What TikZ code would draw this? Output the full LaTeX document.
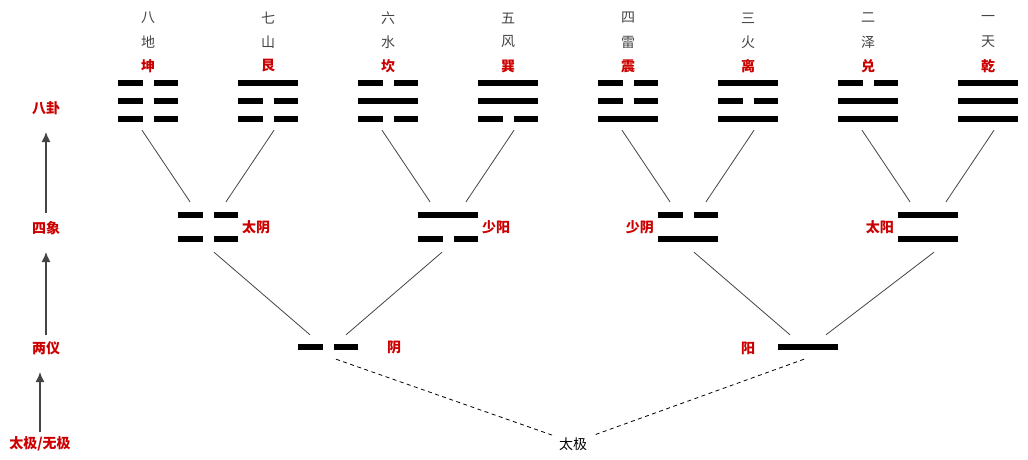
\documentclass[tikz,border=0pt]{standalone}
\usepackage{fontspec}
\setmainfont{Noto Sans CJK SC}
\usetikzlibrary{arrows.meta,calc,positioning}
\definecolor{guared}{HTML}{CC0000}
\definecolor{guagray}{HTML}{444444}
% one yao line: #1 centre x, #2 y, #3 = 1 solid, 0 broken
\newcommand{\yaoline}[3]{%
  \ifnum#3=1
    \draw[yao] (#1-30,#2) -- (#1+30,#2);
  \else
    \draw[yao] (#1-30,#2) -- (#1-5.5,#2);
    \draw[yao] (#1+5.5,#2) -- (#1+30,#2);
  \fi}
\begin{document}
\begin{tikzpicture}[x=1pt,y=-1pt,
    yao/.style={line width=6pt,black},
    link/.style={guagray,line width=0.8pt},
    dotlink/.style={black,line width=0.8pt,dash pattern=on 4pt off 3.5pt},
    uparrow/.style={-{Latex[length=10pt,width=9pt]},guagray,line width=1.3pt},
    frame/.style={minimum width=60pt,inner sep=0pt},
    numtxt/.style={text=guagray,font=\fontsize{14}{16}\selectfont,inner sep=1pt},
    redtxt/.style={text=guared,font=\fontsize{14}{16}\selectfont\bfseries,inner sep=1pt},
    basetxt/.style={text=black,font=\fontsize{14}{16}\selectfont,inner sep=3pt}]
  \useasboundingbox (0,0) rectangle (1028,459);
  % Eight trigrams
  \foreach \i/\num/\obj/\gua/\ya/\yb/\yc in {0/八/地/坤/0/0/0,1/七/山/艮/1/0/0,
      2/六/水/坎/0/1/0,3/五/风/巽/1/1/0,4/四/雷/震/0/0/1,5/三/火/离/1/0/1,
      6/二/泽/兑/0/1/1,7/一/天/乾/1/1/1}{
    \pgfmathsetmacro\cx{148+120*\i}
    \node[numtxt] (n\i) at (\cx,18) {\num};
    \node[numtxt] (o\i) at (\cx,42) {\obj};
    \node[redtxt] (t\i) at (\cx,66) {\gua};
    \node[frame,minimum height=58pt] (g\i) at (\cx,101) {};
    \yaoline{\cx}{83}{\ya}
    \yaoline{\cx}{101}{\yb}
    \yaoline{\cx}{119}{\yc}
  }
  % Four images
  \foreach \j/\ya/\yb in {0/0/0,1/1/0,2/0/1,3/1/1}{
    \pgfmathsetmacro\cx{208+240*\j}
    \pgfmathtruncatemacro\ja{2*\j}
    \pgfmathtruncatemacro\jb{2*\j+1}
    \node[frame,minimum height=50pt] (b\j) at (\cx,227) {};
    \yaoline{\cx}{215}{\ya}
    \yaoline{\cx}{239}{\yb}
    \draw[link] ([xshift=-6pt]g\ja.south) -- ([xshift=-18pt]b\j.north);
    \draw[link] ([xshift=6pt]g\jb.south) -- ([xshift=18pt]b\j.north);
  }
  \node[redtxt,right=3pt of b0.center,xshift=30pt] (l0) {太阴};
  \node[redtxt,right=3pt of b1.center,xshift=30pt] (l1) {少阳};
  \node[redtxt,left=3pt of b2.center,xshift=-30pt] (l2) {少阴};
  \node[redtxt,left=3pt of b3.center,xshift=-30pt] (l3) {太阳};
  % Two forms
  \node[frame,minimum height=24pt] (m0) at (328,347) {};
  \node[frame,minimum height=24pt] (m1) at (808,347) {};
  \yaoline{328}{347}{0}
  \yaoline{808}{347}{1}
  \node[redtxt] (yin) at (394,348) {阴};
  \node[redtxt] (yang) at (748,348) {阳};
  \draw[link] ([xshift=6pt]b0.south) -- ([xshift=-18pt]m0.north);
  \draw[link] ([xshift=-6pt]b1.south) -- ([xshift=18pt]m0.north);
  \draw[link] ([xshift=6pt]b2.south) -- ([xshift=-18pt]m1.north);
  \draw[link] ([xshift=6pt]b3.south) -- ([xshift=18pt]m1.north);
  % Taiji
  \node[basetxt] (tj) at (573,444) {太极};
  \draw[dotlink] ([xshift=8pt]m0.south) -- ([xshift=-3pt,yshift=-1pt]tj.north west);
  \draw[dotlink] ([xshift=-4pt]m1.south) -- ([xshift=3pt,yshift=-1pt]tj.north east);
  % Level axis
  \node[redtxt] (lv8) at (46,108) {八卦};
  \node[redtxt] (lv4) at (46,228) {四象};
  \node[redtxt] (lv2) at (46,348) {两仪};
  \node[redtxt] (lv0) at (40,444) {太极/无极};
  \draw[uparrow] (46,213) -- (lv8.south |- 0,132);
  \draw[uparrow] (46,335) -- (lv4.south |- 0,252);
  \draw[uparrow] (lv0.north |- 0,432) -- (lv0.north |- 0,372);
\end{tikzpicture}
\end{document}
